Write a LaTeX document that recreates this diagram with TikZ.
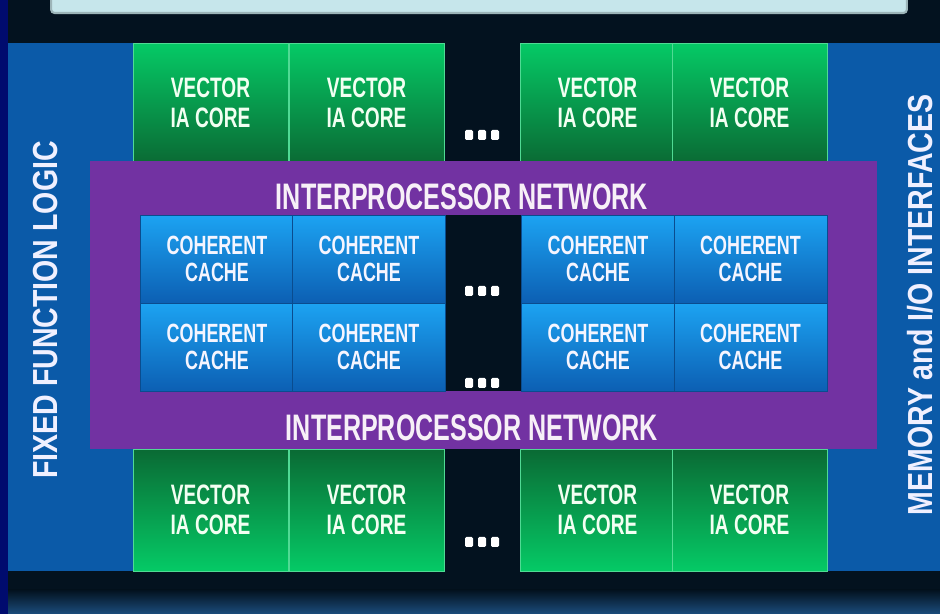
\documentclass[tikz,border=0pt]{standalone}
\usepackage{fontspec}
\setmainfont{Liberation Sans}
\newfontfamily\narrowfont{Liberation Sans}[FakeStretch=0.68]
\newfontfamily\sidefont{Liberation Sans}[FakeStretch=0.82]
\usepackage{tikz}
\usepackage{xcolor}
\definecolor{bgdark}{HTML}{03121F}
\definecolor{navystrip}{HTML}{000B6E}
\definecolor{panelblue}{HTML}{0B5AA8}
\definecolor{netpurple}{HTML}{7232A2}
\definecolor{greenhi}{HTML}{05CA66}
\definecolor{greenlo}{HTML}{0A6A34}
\definecolor{cachehi}{HTML}{1CA3F2}
\definecolor{cachelo}{HTML}{0C5FB3}
\definecolor{glowblue}{HTML}{1B4C7C}
\definecolor{bannerfill}{HTML}{C6E6EB}
\definecolor{bannerline}{HTML}{9CB4B8}
\newcommand{\coretext}{VECTOR\\IA CORE}
\newcommand{\cachetext}{COHERENT\\CACHE}
\newcommand{\dotrow}[1]{%
  \begin{scope}[shift={(#1)}]
    \foreach \dx in {-13,0,13}
      \fill[white,rounded corners=0.8pt] (\dx-4,-5) rectangle (\dx+4,5);
  \end{scope}}

\begin{document}
\begin{tikzpicture}[x=0.02cm,y=-0.02cm]
    \tikzstyle{core}=[rectangle,inner sep=0pt,minimum width=3.1cm,draw=greenhi!70!white,line width=0.4pt,
      text=green!5!white,align=center,font=\narrowfont\bfseries\fontsize{16}{17}\selectfont]
    \tikzstyle{topcore}=[core,minimum height=2.4cm,top color=greenhi,bottom color=greenlo]
    \tikzstyle{botcore}=[core,minimum height=2.44cm,top color=greenlo,bottom color=greenhi]
    \tikzstyle{cache}=[rectangle,inner sep=0pt,minimum width=3.06cm,minimum height=1.76cm,draw=cachelo!80!black,line width=0.4pt,
      top color=cachehi,bottom color=cachelo,text=blue!4!white,align=center,font=\narrowfont\bfseries\fontsize{15}{15.5}\selectfont]
    \tikzstyle{panel}=[rectangle,inner sep=0pt,fill=panelblue,minimum height=10.56cm]
    \tikzstyle{sidelabel}=[rotate=90,text=blue!6!white,font=\sidefont\bfseries\fontsize{19.8}{21}\selectfont]
    \tikzstyle{netlabel}=[text=violet!6!white,font=\narrowfont\bfseries\fontsize{21}{23}\selectfont]
    \useasboundingbox (0,0) rectangle (940,614);
    \fill[bgdark] (0,0) rectangle (940,614);
    \shade[top color=bgdark,bottom color=glowblue] (8,590) rectangle (940,614);
    \fill[navystrip] (0,0) rectangle (8,614);
    % banner, cut off at the top
    \node[rectangle,inner sep=0pt,minimum width=17.12cm,minimum height=0.6cm,fill=bannerfill,draw=bannerline,
      line width=1.2pt,rounded corners=2pt] (banner) at (479,-2) {};
    % side blocks
    \node[panel,minimum width=2.5cm] (fixedLogic) at (70.5,307) {};
    \node[panel,minimum width=2.3cm] (memIO) at (882.5,307) {};
    \node[sidelabel] (fixedLabel) at (46,310) {FIXED FUNCTION LOGIC};
    \node[sidelabel] (memLabel) at (920,305) {MEMORY and I/O INTERFACES};
    % vector cores
    \node[topcore] (coreA) at (210.5,103) {\coretext};
    \node[topcore] (coreB) at (366.5,103) {\coretext};
    \node[topcore] (coreC) at (597.5,103) {\coretext};
    \node[topcore] (coreD) at (749.5,103) {\coretext};
    \node[botcore] (coreE) at (210.5,510) {\coretext};
    \node[botcore] (coreF) at (366.5,510) {\coretext};
    \node[botcore] (coreG) at (597.5,510) {\coretext};
    \node[botcore] (coreH) at (749.5,510) {\coretext};
    % interprocessor network
    \node[rectangle,inner sep=0pt,fill=netpurple,minimum width=15.74cm,minimum height=5.76cm] (ipn) at (483.5,305) {};
    \fill[bgdark] (446,215) rectangle (522,391);
    \node[netlabel] (ipnTop) at (462,197) {INTERPROCESSOR NETWORK};
    \node[netlabel] (ipnBot) at (472,428) {INTERPROCESSOR NETWORK};
    % coherent caches
    \node[cache] (cacheA) at (217,259) {\cachetext};
    \node[cache] (cacheB) at (369,259) {\cachetext};
    \node[cache] (cacheC) at (598,259) {\cachetext};
    \node[cache] (cacheD) at (750.5,259) {\cachetext};
    \node[cache] (cacheE) at (217,347) {\cachetext};
    \node[cache] (cacheF) at (369,347) {\cachetext};
    \node[cache] (cacheG) at (598,347) {\cachetext};
    \node[cache] (cacheH) at (750.5,347) {\cachetext};
    % ellipsis marks
    \coordinate (dotsTop) at (482,135);
    \coordinate (dotsMid) at (482,291);
    \coordinate (dotsLow) at (482,383);
    \coordinate (dotsBot) at (482,542);
    \dotrow{dotsTop}
    \dotrow{dotsMid}
    \dotrow{dotsLow}
    \dotrow{dotsBot}
\end{tikzpicture}
\end{document}
